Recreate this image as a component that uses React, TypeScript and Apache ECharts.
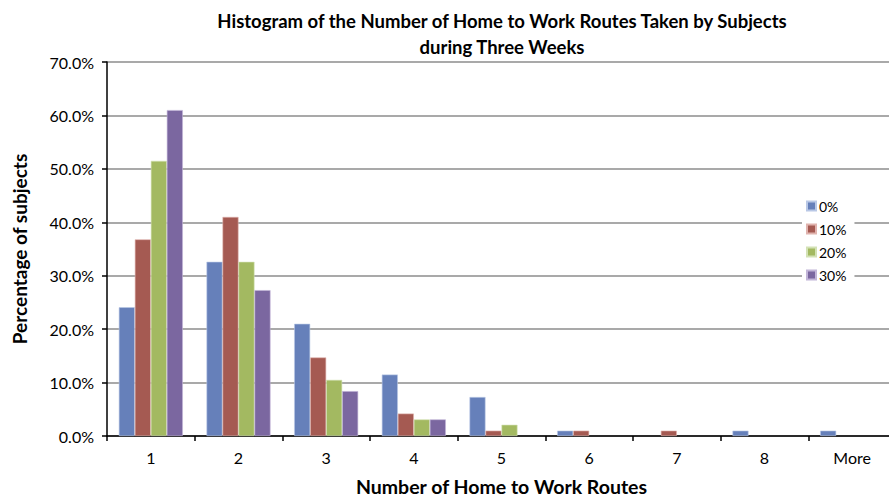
import React, { useEffect, useRef } from "react";
import * as echarts from "echarts";

const categories = ["1", "2", "3", "4", "5", "6", "7", "8", "More"];
const seriesNames = ["0%", "10%", "20%", "30%"];
const values0 = [24.1, 32.6, 21.0, 11.5, 7.3, 1.0, 0, 1.0, 1.0];
const values10 = [36.8, 41.0, 14.7, 4.2, 1.0, 1.0, 1.0, 0, 0];
const values20 = [51.5, 32.6, 10.5, 3.1, 2.1, 0, 0, 0, 0];
const values30 = [61.0, 27.3, 8.4, 3.1, 0, 0, 0, 0, 0];
const yTicks = [0, 10, 20, 30, 40, 50, 60, 70];

const colors = ["#6680BA", "#A55A52", "#A3B961", "#7B67A0"];
const borders = ["#B9C8E6", "#E0B3AE", "#D3E2B5", "#C2B5D8"];

export default function App() {
  const ref = useRef<HTMLDivElement>(null);
  useEffect(() => {
    if (!ref.current) return;
    const chart = echarts.init(ref.current, undefined, { renderer: "svg" });
    const all = [values0, values10, values20, values30];
    chart.setOption({
      animation: false,
      backgroundColor: "#ffffff",
      textStyle: { fontFamily: "Lato" },
      title: {
        text: "Histogram of the Number of Home to Work Routes Taken by Subjects\nduring Three Weeks",
        left: 497,
        top: 3,
        textAlign: "center",
        textStyle: { fontFamily: "Lato", fontSize: 18.5, fontWeight: "bold", color: "#000", lineHeight: 26 },
      },
      legend: {
        orient: "vertical",
        left: 802,
        top: 195,
        itemWidth: 9,
        itemHeight: 9,
        itemGap: 9,
        padding: [4, 8, 4, 4],
        backgroundColor: "#ffffff",
        data: seriesNames,
        icon: "rect",
        textStyle: { fontFamily: "Lato", fontSize: 14, color: "#000", padding: [0, 0, 0, -2] },
      },
      grid: { left: 107, top: 62, width: 789, height: 374, outerBoundsMode: "none", containLabel: false },
      xAxis: {
        type: "category",
        data: categories,
        name: "Number of Home to Work Routes",
        nameLocation: "middle",
        nameGap: 40,
        nameTextStyle: { fontFamily: "Lato", fontSize: 19.5, fontWeight: "bold", color: "#000", lineHeight: 20 },
        axisLine: { lineStyle: { color: "#000", width: 1.5 } },
        axisTick: { show: true, length: 5, lineStyle: { color: "#000", width: 1.5 } },
        axisLabel: { fontSize: 16, color: "#000", margin: 13, fontFamily: "Lato" },
      },
      yAxis: {
        type: "value",
        min: 0,
        max: 70,
        interval: 10,
        name: "Percentage of subjects",
        nameLocation: "middle",
        nameGap: 78,
        nameTextStyle: { fontFamily: "Lato", fontSize: 19, fontWeight: "bold", color: "#000" },
        axisLine: { show: true, lineStyle: { color: "#000", width: 1.5 } },
        axisTick: { show: true, length: 5, lineStyle: { color: "#000", width: 1.5 } },
        axisLabel: {
          fontSize: 16,
          color: "#000",
          margin: 13,
          fontFamily: "Lato",
          formatter: (v: number) => (yTicks.includes(v) ? v.toFixed(1) + "%" : ""),
        },
        splitLine: { show: true, lineStyle: { color: "#8C8C8C", width: 1.5 } },
      },
      series: all.map((vals, i) => ({
        name: seriesNames[i],
        type: "bar",
        data: vals.map((v) => (v === 0 ? null : v)),
        barGap: "0%",
        barCategoryGap: "27%",
        itemStyle: { color: colors[i], borderColor: borders[i], borderWidth: 0.6 },
      })),
    });
    return () => chart.dispose();
  }, []);
  return (
    <div
      ref={ref}
      style={{ position: "absolute", left: 0, top: 0, width: 889, height: 496 }}
    />
  );
}
